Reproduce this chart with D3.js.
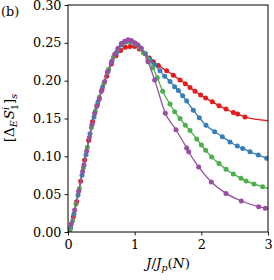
<!DOCTYPE html>
<html>
<head>
<meta charset="utf-8">
<script src="https://cdn.jsdelivr.net/npm/d3@7"></script>
<style>
body { margin: 0; background: #fff; }
svg { display: block; }
</style>
</head>
<body>
<div id="chart"></div>
<script>
var WIDTH = 274, HEIGHT = 280;

var xTicks = [0, 1, 2, 3];
var yTicks = [0, 0.05, 0.10, 0.15, 0.20, 0.25, 0.30];

var redJ = [0.03,0.08,0.13,0.19,0.25,0.31,0.37,0.44,0.51,0.58,0.65,0.72,0.79,0.86,0.93,1.0,1.07,1.15,1.22,1.28,1.355,1.48,1.58,1.68,1.76,1.83,1.905,1.99,2.065,2.165,2.265,2.37,2.48,2.545,2.655];
var redV = [.004,.020,.040,.067,.095,.121,.146,.168,.188,.206,.222,.233,.240,.244,.245,.245,.242,.236,.230,.225,.220,.213,.207,.201,.196,.191,.186,.181,.177,.172,.167,.1625,.158,.156,.152];
var redEnd = [3.0, 0.147];

var blueJ = [0.04,0.09,0.15,0.21,0.27,0.33,0.39,0.45,0.52,0.59,0.66,0.73,0.8,0.87,0.94,1.01,1.09,1.16,1.23,1.3,1.38,1.45,1.53,1.6,1.655,1.72,1.78,1.88,1.97,2.07,2.2,2.315,2.43,2.54,2.62,2.73,2.855,2.98];
var blueV = [.006,.024,.049,.075,.102,.130,.152,.172,.192,.211,.226,.238,.247,.251,.251,.249,.243,.236,.228,.221,.213,.206,.199,.192,.187,.180,.173,.161,.151,.141,.1325,.126,.119,.1137,.1105,.106,.1018,.0975];
var blueEnd = [3.0, 0.097];

var greenJ = [0.03,0.07,0.12,0.17,0.23,0.29,0.35,0.41,0.47,0.54,0.61,0.68,0.75,0.82,0.89,0.96,1.02,1.07,1.13,1.2,1.27,1.34,1.42,1.53,1.6,1.68,1.76,1.83,1.93,2.0,2.065,2.155,2.265,2.37,2.48,2.595,2.67,2.79,2.92];
var greenV = [.003,.015,.037,.057,.085,.112,.138,.160,.178,.197,.215,.231,.242,.249,.252,.251,.248,.244,.237,.228,.217,.204,.186,.169,.159,.150,.141,.134,.123,.115,.108,.099,.0905,.083,.0765,.071,.0675,.0635,.0598];
var greenEnd = [3.0, 0.0578];

var purpleJ = [0.05,0.1,0.16,0.22,0.24,0.28,0.32,0.36,0.4,0.43,0.47,0.5,0.55,0.6,0.65,0.7,0.75,0.8,0.85,0.9,0.95,1.0,1.05,1.1,1.2,1.3,1.46,1.62,1.78,1.81,1.96,2.15,2.37,2.6,2.86,2.96];
var purpleV = [.011,.029,.054,.080,.089,.107,.125,.142,.157,.166,.176,.186,.199,.212,.224,.235,.243,.249,.252,.254,.253,.250,.247,.243,.225,.201,.157,.135,.111,.106,.086,.066,.051,.041,.0335,.0315];
var purpleEnd = [3.0, 0.031];

var series = [
    {name: 'red', color: '#e41a1c', j: redJ, v: redV, end: redEnd},
    {name: 'blue', color: '#377eb8', j: blueJ, v: blueV, end: blueEnd},
    {name: 'green', color: '#4daf4a', j: greenJ, v: greenV, end: greenEnd},
    {name: 'purple', color: '#984ea3', j: purpleJ, v: purpleV, end: purpleEnd}
];

var plot = {left: 68, right: 268, top: 5, bottom: 232};
var FONT = "DejaVu Serif";
var FS = 12.8, FS_LAB = 13.5, FS_SUB = 9.5;

var x = d3.scaleLinear().domain([0, 3]).range([plot.left, plot.right]);
var y = d3.scaleLinear().domain([0, 0.3]).range([plot.bottom, plot.top]);

var svg = d3.select('#chart').append('svg')
    .attr('width', WIDTH)
    .attr('height', HEIGHT);

svg.append('defs').append('clipPath')
    .attr('id', 'clip')
  .append('rect')
    .attr('x', plot.left)
    .attr('y', plot.top)
    .attr('width', plot.right - plot.left)
    .attr('height', plot.bottom - plot.top);

var line = d3.line()
    .x(function(d) { return x(d[0]); })
    .y(function(d) { return y(d[1]); })
    .curve(d3.curveMonotoneX);

var marks = svg.append('g').attr('clip-path', 'url(#clip)');

series.forEach(function(s) {
    var pts = s.j.map(function(j, i) { return [j, s.v[i]]; });
    var g = marks.append('g').attr('class', 'series-' + s.name);

    g.append('path')
	.datum([[0, 0]].concat(pts, [s.end]))
	.attr('d', line)
	.attr('fill', 'none')
	.attr('stroke', s.color)
	.attr('stroke-width', 1.3);

    g.selectAll('circle')
	.data(pts)
	.enter().append('circle')
	.attr('cx', function(d) { return x(d[0]); })
	.attr('cy', function(d) { return y(d[1]); })
	.attr('r', 2.5)
	.attr('fill', s.color);
});

// axes
var yAxis = d3.axisLeft(y)
    .tickValues(yTicks)
    .tickFormat(d3.format('.2f'))
    .tickSize(3.5)
    .tickPadding(3);

var xAxis = d3.axisBottom(x)
    .tickValues(xTicks)
    .tickFormat(d3.format('d'))
    .tickSize(3.5)
    .tickPadding(4);

var ya = svg.append('g')
    .attr('transform', 'translate(' + plot.left + ',0)')
    .call(yAxis);

var xa = svg.append('g')
    .attr('transform', 'translate(0,' + plot.bottom + ')')
    .call(xAxis);

[ya, xa].forEach(function(a) {
    a.attr('font-family', FONT).attr('font-size', FS);
    a.select('.domain').remove();
    a.selectAll('line').attr('stroke', '#000').attr('stroke-width', 0.9);
    a.selectAll('text').attr('fill', '#000');
});
// keep the top label inside the window
ya.selectAll('text').filter(function(d) { return d === 0.30; }).attr('dy', '0.36em');

svg.append('rect')
    .attr('x', plot.left)
    .attr('y', plot.top)
    .attr('width', plot.right - plot.left)
    .attr('height', plot.bottom - plot.top)
    .attr('fill', 'none')
    .attr('stroke', '#000')
    .attr('stroke-width', 1);

// labels
svg.append('text')
    .attr('x', 1)
    .attr('y', 16)
    .attr('font-family', FONT)
    .attr('font-size', FS)
    .text('(b)');

var xl = svg.append('text')
    .attr('x', 168)
    .attr('y', 268)
    .attr('text-anchor', 'middle')
    .attr('font-family', FONT)
    .attr('font-size', FS_LAB);
xl.append('tspan').attr('font-style', 'italic').text('J');
xl.append('tspan').text('/');
xl.append('tspan').attr('font-style', 'italic').text('J');
xl.append('tspan').attr('font-style', 'italic').attr('font-size', FS_SUB).attr('dy', 3).text('p');
xl.append('tspan').attr('dy', -3).text('(');
xl.append('tspan').attr('font-style', 'italic').text('N');
xl.append('tspan').text(')');

var yl = svg.append('text')
    .attr('transform', 'translate(14,118) rotate(-90)')
    .attr('text-anchor', 'middle')
    .attr('font-family', FONT)
    .attr('font-size', FS_LAB);
yl.append('tspan').text('[Δ');
yl.append('tspan').attr('font-style', 'italic').attr('font-size', FS_SUB).attr('dy', 3).text('E');
yl.append('tspan').attr('font-style', 'italic').attr('dx', 1).attr('dy', -3).text('S');
yl.append('tspan').attr('font-style', 'italic').attr('font-size', FS_SUB).attr('dy', -5).text('i');
yl.append('tspan').attr('font-size', FS_SUB).attr('dx', -3).attr('dy', 9).text('1');
yl.append('tspan').attr('dy', -4).text(']');
yl.append('tspan').attr('font-style', 'italic').attr('font-size', FS_SUB).attr('dy', 3).text('s');
</script>
</body>
</html>
